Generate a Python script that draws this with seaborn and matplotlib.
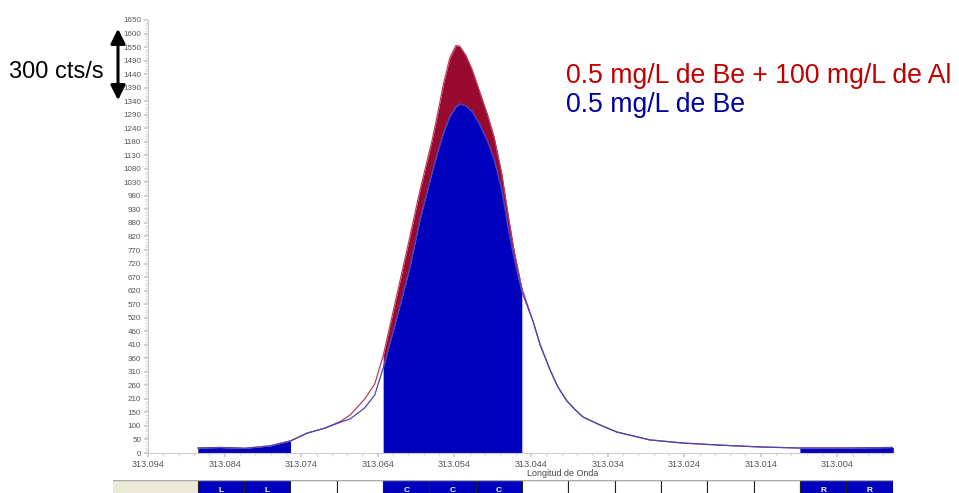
import numpy as np
import pandas as pd
import matplotlib
matplotlib.use("Agg")
import matplotlib.pyplot as plt
import seaborn as sns
from matplotlib.patches import Rectangle, FancyArrowPatch
from matplotlib.ticker import FixedLocator, MultipleLocator

# ---------------- data ----------------
wavelength = [313.0875, 313.0846, 313.0813, 313.0781, 313.0754, 313.0732, 313.0709,
              313.0689, 313.0676, 313.0657, 313.0644, 313.0633, 313.0616, 313.0599,
              313.0585, 313.0569, 313.0561, 313.0554, 313.0546, 313.0538, 313.0533,
              313.0525, 313.0517, 313.0507, 313.0496, 313.0488, 313.0478, 313.0470,
              313.0462, 313.0452, 313.0437, 313.0428, 313.0415, 313.0405, 313.0393,
              313.0382, 313.0372, 313.0350, 313.0328, 313.0285, 313.0242, 313.0193,
              313.0141, 313.0089, 313.0027, 312.9967]

be_al = [19, 21, 18, 27, 46, 76, 95,
         120, 145, 206, 263, 370, 591, 812,
         1000, 1193, 1305, 1410, 1505, 1553, 1550,
         1515, 1462, 1377, 1282, 1202, 1062, 910,
         770, 629, 499, 412, 316, 252, 198,
         164, 137, 107, 80, 50, 38, 30,
         23, 19, 19, 21]

be_only = [19, 21, 18, 27, 46, 76, 95,
           117, 130, 172, 221, 324, 507, 697,
           888, 1071, 1155, 1222, 1282, 1320, 1330,
           1323, 1302, 1252, 1182, 1117, 1000, 860,
           740, 615, 499, 412, 316, 252, 198,
           164, 137, 107, 80, 50, 38, 30,
           23, 19, 19, 21]

series_names = ["0.5 mg/L de Be + 100 mg/L de Al", "0.5 mg/L de Be"]

ytick_labels = ["0", "50", "100", "150", "210", "260", "310", "360", "410", "460",
                "520", "570", "620", "670", "720", "770", "820", "880", "930", "980",
                "1030", "1080", "1130", "1180", "1240", "1290", "1340", "1390", "1440",
                "1490", "1550", "1600", "1650"]
xtick_values = [313.094, 313.084, 313.074, 313.064, 313.054, 313.044,
                313.034, 313.024, 313.014, 313.004]
cell_labels = ["L", "L", "", "", "C", "C", "C", "", "", "", "", "", "", "R", "R"]
x_label = "Longitud de Onda"
arrow_label = "300 cts/s"

# ---------------- styling / layout ----------------
sns.set_theme(style="white")
plt.rcParams["font.family"] = ["Liberation Sans", "DejaVu Sans"]

W, H = 959, 493
fig = plt.figure(figsize=(W / 100, H / 100), dpi=100)

def fx(px):
    return px / W

def fy(py):
    return 1 - py / H

ax_l, ax_r, ax_t, ax_b = 148, 893, 20, 453
ax = fig.add_axes([fx(ax_l), fy(ax_b), fx(ax_r) - fx(ax_l), fy(ax_t) - fy(ax_b)])

XMAX, XMIN = 313.094, 312.99674

RED_FILL = "#9a0a30"
BLUE_FILL = "#0000bf"
RED_LINE = "#b8405a"
BLUE_LINE = "#4848b8"

df = pd.DataFrame({"wl": wavelength, "al": be_al, "be": be_only})
wl = df["wl"].to_numpy()

# measurement windows from cell layout
cell_start, cell_w = 313.0875, 0.006048
regions = []
i = 0
while i < len(cell_labels):
    if cell_labels[i]:
        j = i
        while j + 1 < len(cell_labels) and cell_labels[j + 1] == cell_labels[i]:
            j += 1
        regions.append((cell_labels[i], cell_start - i * cell_w, cell_start - (j + 1) * cell_w))
        i = j + 1
    else:
        i += 1

for lab, hi, lo in regions:
    m = (wl <= hi + 1e-4) & (wl >= lo - 1e-4)
    if lab == "C":
        ax.fill_between(wl[m], df["be"][m], df["al"][m], color=RED_FILL, lw=0, zorder=1)
    ax.fill_between(wl[m], 0, df["be"][m], color=BLUE_FILL, lw=0, zorder=2)

sns.lineplot(data=df, x="wl", y="al", ax=ax, color=RED_LINE, lw=0.9, zorder=3, sort=False)
sns.lineplot(data=df, x="wl", y="be", ax=ax, color=BLUE_LINE, lw=0.9, zorder=4, sort=False)

ax.set_xlim(XMAX, XMIN)
ax.set_ylim(0, 1650)

# y ticks: evenly spaced, labels as printed
ypos = [k * 1650 / 32 for k in range(len(ytick_labels))]
ax.yaxis.set_major_locator(FixedLocator(ypos))
ax.set_yticklabels(ytick_labels)
ax.yaxis.set_minor_locator(MultipleLocator(1650 / 32 / 5))
ax.set_xticks(xtick_values)
ax.set_xticklabels([f"{v:.3f}" for v in xtick_values])
ax.xaxis.set_minor_locator(MultipleLocator(0.002))

ax.tick_params(axis="y", which="major", labelsize=5.8, labelcolor="#555555",
               length=3, color="#cccccc", pad=2, left=True)
ax.tick_params(axis="y", which="minor", length=2, color="#dddddd", left=True)
ax.tick_params(axis="x", which="major", labelsize=6.6, labelcolor="#555555",
               length=3, color="#cccccc", pad=2, bottom=True)
ax.tick_params(axis="x", which="minor", length=2, color="#dddddd", bottom=True)

for s in ["top", "right"]:
    ax.spines[s].set_visible(False)
for s in ["left", "bottom"]:
    ax.spines[s].set_color("#cccccc")
    ax.spines[s].set_linewidth(0.8)

ax.set_ylabel("")
ax.set_xlabel(x_label, fontsize=6.4, color="#444444")
ax.xaxis.set_label_coords((563 - ax_l) / (ax_r - ax_l), -(469 - ax_b) / (ax_b - ax_t))
ax.xaxis.label.set_va("top")

# ---------------- bottom strip of window cells ----------------
strip_left = 113
sax = fig.add_axes([fx(strip_left), 0, fx(ax_r) - fx(strip_left), fy(480)])
s_xmax = XMAX + (ax_l - strip_left) * (XMAX - XMIN) / (ax_r - ax_l)
sax.set_xlim(s_xmax, XMIN)
sax.set_ylim(0, 1)
sax.axis("off")
sax.add_patch(Rectangle((cell_start, 0), s_xmax - cell_start, 1, facecolor="#ece9d8",
                        edgecolor="none"))
for k, lab in enumerate(cell_labels):
    x0 = cell_start - (k + 1) * cell_w
    sax.add_patch(Rectangle((x0, -0.2), cell_w, 1.2,
                            facecolor=BLUE_FILL if lab else "white",
                            edgecolor="#222222", lw=0.8))
    if lab:
        sax.text(x0 + cell_w / 2, 0.2, lab, color="white", fontsize=6,
                 fontweight="bold", ha="center", va="center")
sax.plot([s_xmax, XMIN], [0.97, 0.97], color="#aaaaaa", lw=1)

# ---------------- annotations ----------------
fig.patches.append(FancyArrowPatch(
    (fx(118), fy(26)), (fx(118), fy(103)), transform=fig.transFigure,
    arrowstyle="<|-|>", mutation_scale=22, lw=2.2, color="black"))
fig.text(fx(9), fy(72), arrow_label, fontsize=17, color="black",
         ha="left", va="center")

fig.text(fx(566), fy(76), series_names[0], fontsize=19.2, color="#c00000",
         ha="left", va="center")
fig.text(fx(566), fy(105), series_names[1], fontsize=19.2, color="#0000a0",
         ha="left", va="center")

fig.savefig("out.png", dpi=100, facecolor="white")
